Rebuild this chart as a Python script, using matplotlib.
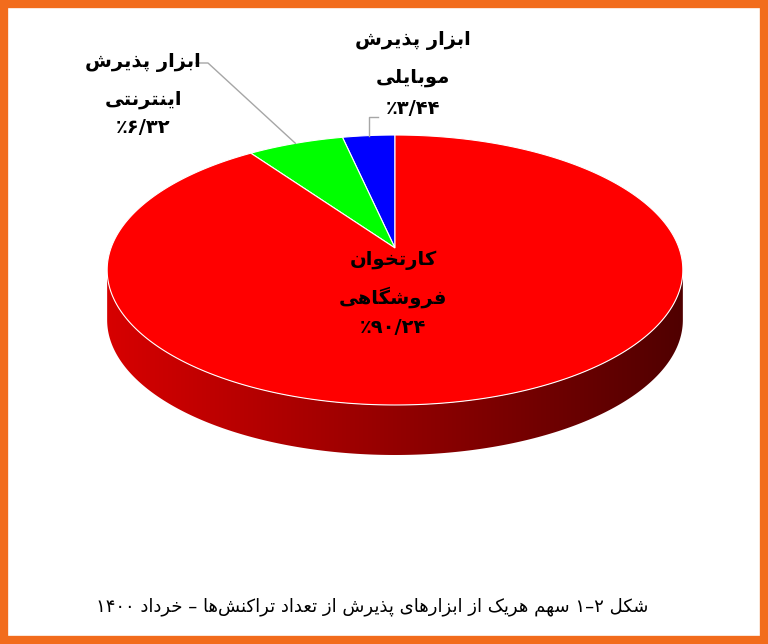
import numpy as np
import matplotlib
matplotlib.use('Agg')
import matplotlib.pyplot as plt
from matplotlib.patches import Polygon, Rectangle

# chart data
label_lines = [['ابزار پذیرش', 'موبایلی'],
               ['ابزار پذیرش', 'اینترنتی'],
               ['کارتخوان', 'فروشگاهی']]
shares = [3.44, 6.32, 90.24]
colors = ['#0000FF', '#00FF00', '#FF0000']
caption = 'شکل ۲–۱ سهم هریک از ابزارهای پذیرش از تعداد تراکنش‌ها – خرداد ۱۴۰۰'

# arabic presentation forms: isolated, final, initial, medial
FORMS = {
    'ا': (0xFE8D, 0xFE8E), 'ب': (0xFE8F, 0xFE90, 0xFE91, 0xFE92),
    'پ': (0xFB56, 0xFB57, 0xFB58, 0xFB59), 'ت': (0xFE95, 0xFE96, 0xFE97, 0xFE98),
    'خ': (0xFEA5, 0xFEA6, 0xFEA7, 0xFEA8), 'د': (0xFEA9, 0xFEAA),
    'ذ': (0xFEAB, 0xFEAC), 'ر': (0xFEAD, 0xFEAE), 'ز': (0xFEAF, 0xFEB0),
    'س': (0xFEB1, 0xFEB2, 0xFEB3, 0xFEB4), 'ش': (0xFEB5, 0xFEB6, 0xFEB7, 0xFEB8),
    'ع': (0xFEC9, 0xFECA, 0xFECB, 0xFECC), 'ف': (0xFED1, 0xFED2, 0xFED3, 0xFED4),
    'ک': (0xFB8E, 0xFB8F, 0xFB90, 0xFB91), 'گ': (0xFB92, 0xFB93, 0xFB94, 0xFB95),
    'ل': (0xFEDD, 0xFEDE, 0xFEDF, 0xFEE0), 'م': (0xFEE1, 0xFEE2, 0xFEE3, 0xFEE4),
    'ن': (0xFEE5, 0xFEE6, 0xFEE7, 0xFEE8), 'ه': (0xFEE9, 0xFEEA, 0xFEEB, 0xFEEC),
    'و': (0xFEED, 0xFEEE), 'ی': (0xFBFC, 0xFBFD, 0xFBFE, 0xFBFF),
}
NUM = set('۰۱۲۳۴۵۶۷۸۹/٪')


def shape(text):
    out = []
    for i, ch in enumerate(text):
        f = FORMS.get(ch)
        if f is None:
            if ch != '\u200c':
                out.append(ch)
            continue
        prev = text[i - 1] if i > 0 else ''
        nxt = text[i + 1] if i < len(text) - 1 else ''
        jp = prev in FORMS and len(FORMS[prev]) == 4
        jn = len(f) == 4 and nxt in FORMS
        k = 3 if (jp and jn) else 1 if jp else 2 if jn else 0
        out.append(chr(f[k]))
    return ''.join(out)


def rtl(text):
    s = shape(text)[::-1]
    res, run = [], []
    for ch in s:
        if ch in NUM:
            run.append(ch)
        else:
            res.extend(run[::-1])
            run = []
            res.append(ch)
    res.extend(run[::-1])
    return ''.join(res)


def pct(v):
    return '٪' + f'{v:.2f}'.replace('.', '/').translate(str.maketrans('0123456789', '۰۱۲۳۴۵۶۷۸۹'))


# pie geometry (pixels), simple perspective
cx, cy, A, B, k, depth = 395, 248, 284, 131.4, 0.163, 50


def proj(u, v):
    w = 1 + k * v
    return cx + A * u / w, cy - B * v / w


def pt(theta):
    # theta in degrees, from 12 o'clock going counter-clockwise
    t = np.radians(theta)
    return proj(-np.sin(t), np.cos(t))


fig = plt.figure(figsize=(7.68, 6.44), dpi=100)
ax = fig.add_axes([0, 0, 1, 1])
ax.set_xlim(0, 768)
ax.set_ylim(644, 0)
ax.axis('off')

# side wall with gradient
a0 = np.degrees(np.arcsin(k))
alpha = np.radians(np.linspace(180 + a0, 360 - a0, 240))
ex, ey = proj(np.cos(alpha), np.sin(alpha))
side = np.column_stack([np.r_[ex, ex[::-1]], np.r_[ey, ey[::-1] + depth]])
side_patch = Polygon(side, closed=True, fc='none', ec='white', lw=0.6)
ax.add_patch(side_patch)
grad = np.linspace(215, 80, 256) / 255
img = np.zeros((2, 256, 3))
img[:, :, 0] = grad
im = ax.imshow(img, extent=(ex.min(), ex.max(), ey.max() + depth + 2, ey.min() - 2),
               aspect='auto', zorder=1)
im.set_clip_path(side_patch)

# top face
start = 0
mids = []
for v, col in zip(shares, colors):
    end = start + v * 3.6
    th = np.linspace(start, end, max(int(v * 4), 4))
    xs, ys = pt(th)
    poly = np.column_stack([np.r_[cx, xs], np.r_[cy, ys]])
    ax.add_patch(Polygon(poly, closed=True, fc=col, ec='white', lw=0.8, zorder=2))
    mids.append(pt((start + end) / 2))
    start = end

# labels
gray = '#A6A6A6'
fs = 14
mx, my = mids[0]
ax.plot([mx, mx, mx + 9], [my, 117, 117], color=gray, lw=1, zorder=3)
for y, s in zip([40, 77, 108], [rtl(label_lines[0][0]), rtl(label_lines[0][1]), pct(shares[0])]):
    ax.text(413, y, s, ha='center', va='center', fontsize=fs, fontweight='bold')

gx, gy = mids[1]
ax.plot([196, 208, gx], [63, 63, gy], color=gray, lw=1, zorder=3)
for y, s in zip([62, 99, 127], [rtl(label_lines[1][0]), rtl(label_lines[1][1]), pct(shares[1])]):
    ax.text(143, y, s, ha='center', va='center', fontsize=fs, fontweight='bold')

for y, s in zip([260, 297, 327], [rtl(label_lines[2][0]), rtl(label_lines[2][1]), pct(shares[2])]):
    ax.text(393, y, s, ha='center', va='center', fontsize=fs, fontweight='bold', zorder=4)

ax.text(372, 607, rtl(caption), ha='center', va='center', fontsize=13)

# orange frame
ax.add_patch(Rectangle((4, 4), 760, 636, fill=False, ec='#F26C1C', lw=6, zorder=5))

fig.savefig('out.png', dpi=100)
